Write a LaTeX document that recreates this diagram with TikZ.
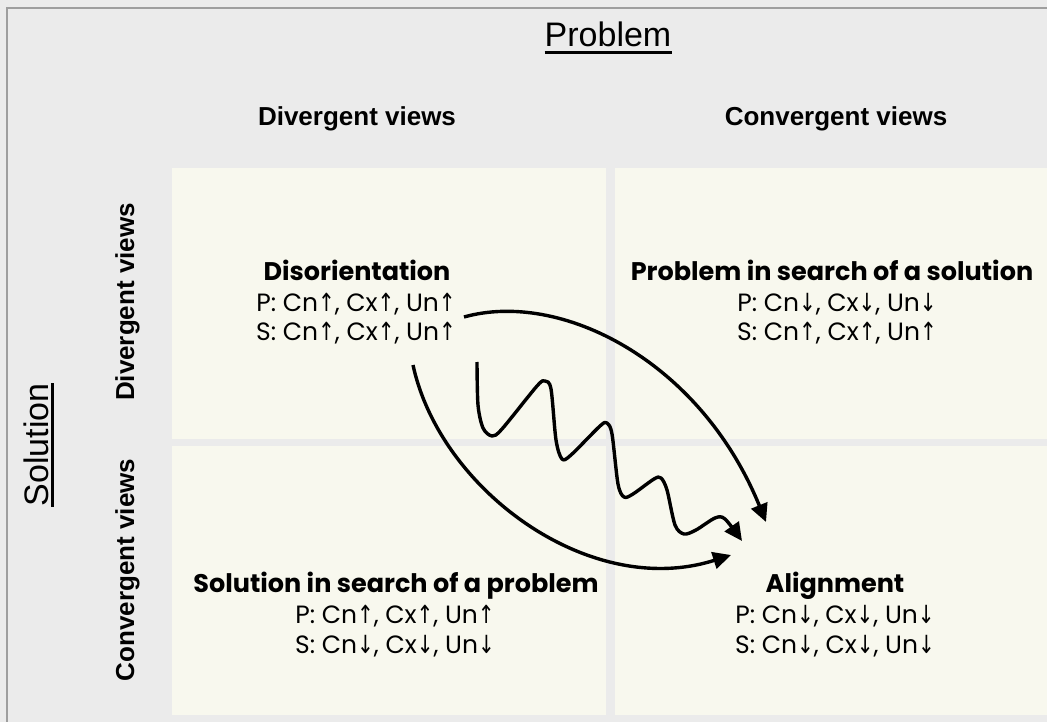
\documentclass[tikz,border=0pt]{standalone}
\usepackage{graphicx}
\usepackage{fontspec}
\setmainfont{Liberation Sans}
\newfontfamily\pop{Poppins}
\newfontfamily\dv{DejaVu Sans}
\usetikzlibrary{arrows.meta}
\definecolor{bg}{HTML}{EBEBEB}
\definecolor{cream}{HTML}{F8F8EE}
\definecolor{framec}{HTML}{9E9E9E}
\newcommand\au{\scalebox{0.8}[1]{\dv ↑}}
\newcommand\ad{\scalebox{0.8}[1]{\dv ↓}}
\tikzset{
  ttl/.style={font=\fontsize{25.5}{30}\selectfont\pop\bfseries, inner sep=0pt, anchor=base},
  sub/.style={font=\fontsize{25}{30}\selectfont\pop, inner sep=0pt, anchor=base},
  hdr/.style={font=\fontsize{26}{30}\selectfont\bfseries, inner sep=0pt, anchor=base},
  big/.style={font=\fontsize{34}{40}\selectfont, inner sep=0pt, anchor=base},
  uline/.style={line width=2.2pt},
  flow/.style={line width=3.4pt, -{Triangle[length=18pt,width=17pt]}},
}
\begin{document}
\begin{tikzpicture}[x=1pt,y=-1pt]
\useasboundingbox (0,0) rectangle (1047,722);
\fill[bg] (0,0) rectangle (1047,722);
\draw[framec, line width=2pt] (7,722) -- (7,8) -- (1047,8);
% cells
\fill[cream] (172,168) rectangle (606,439);
\fill[cream] (615,168) rectangle (1047,439);
\fill[cream] (172,446) rectangle (606,715);
\fill[cream] (615,446) rectangle (1047,715);
% axis titles
\node[big] (prob) at (608,47) {Problem};
\draw[uline] ([yshift=-5.5pt]prob.base west) -- ([yshift=-5.5pt]prob.base east);
\node[big, rotate=90] (sol) at (48,445) {Solution};
\draw[uline] ([xshift=4.5pt]sol.base west) -- ([xshift=4.5pt]sol.base east);
% headers
\node[hdr] (cdiv) at (357,126) {Divergent views};
\node[hdr] (cconv) at (836,126) {Convergent views};
\node[hdr, rotate=90] (rdiv) at (134,302) {Divergent views};
\node[hdr, rotate=90] (rconv) at (134,570) {Convergent views};
% cell texts
\node[ttl] (dis) at (357,280) {Disorientation};
\node[sub] (dis2) at (356,311) {P: Cn\au, Cx\au, Un\au};
\node[sub] (dis3) at (356,340) {S: Cn\au, Cx\au, Un\au};
\node[ttl] (pis) at (832,280) {Problem in search of a solution};
\node[sub] (pis2) at (837,311) {P: Cn\ad, Cx\ad, Un\ad};
\node[sub] (pis3) at (837,340) {S: Cn\au, Cx\au, Un\au};
\node[ttl] (sis) at (396,592) {Solution in search of a problem};
\node[sub] (sis2) at (395,623) {P: Cn\au, Cx\au, Un\au};
\node[sub] (sis3) at (395,653) {S: Cn\ad, Cx\ad, Un\ad};
\node[ttl] (ali) at (835,592) {Alignment};
\node[sub] (ali2) at (835,623) {P: Cn\ad, Cx\ad, Un\ad};
\node[sub] (ali3) at (835,653) {S: Cn\ad, Cx\ad, Un\ad};
% connectors
\coordinate (a1s) at (464,317);
\coordinate (a1e) at (766,522);
\coordinate (a2s) at (413,365);
\coordinate (a2e) at (731,555);
\coordinate (w0) at (477,362);
\coordinate (w1) at (742,541);
\draw[flow] (a1s) .. controls (560,290) and (700,360) .. (a1e);
\draw[flow] (a2s) .. controls (440,490) and (590,600) .. (a2e);
\draw[flow, line join=round] plot[smooth, tension=0.5] coordinates {(w0) (478,405) (483,428) (492,436) (502,429) (537,386) (545,381) (551,389) (556,440) (562,459) (571,455) (600,426) (607,423) (612,434) (618,484) (624,497) (633,494) (654,479) (661,478) (667,490) (675,525) (684,534) (696,530) (715,518) (725,519) (w1)};
\end{tikzpicture}
\end{document}
